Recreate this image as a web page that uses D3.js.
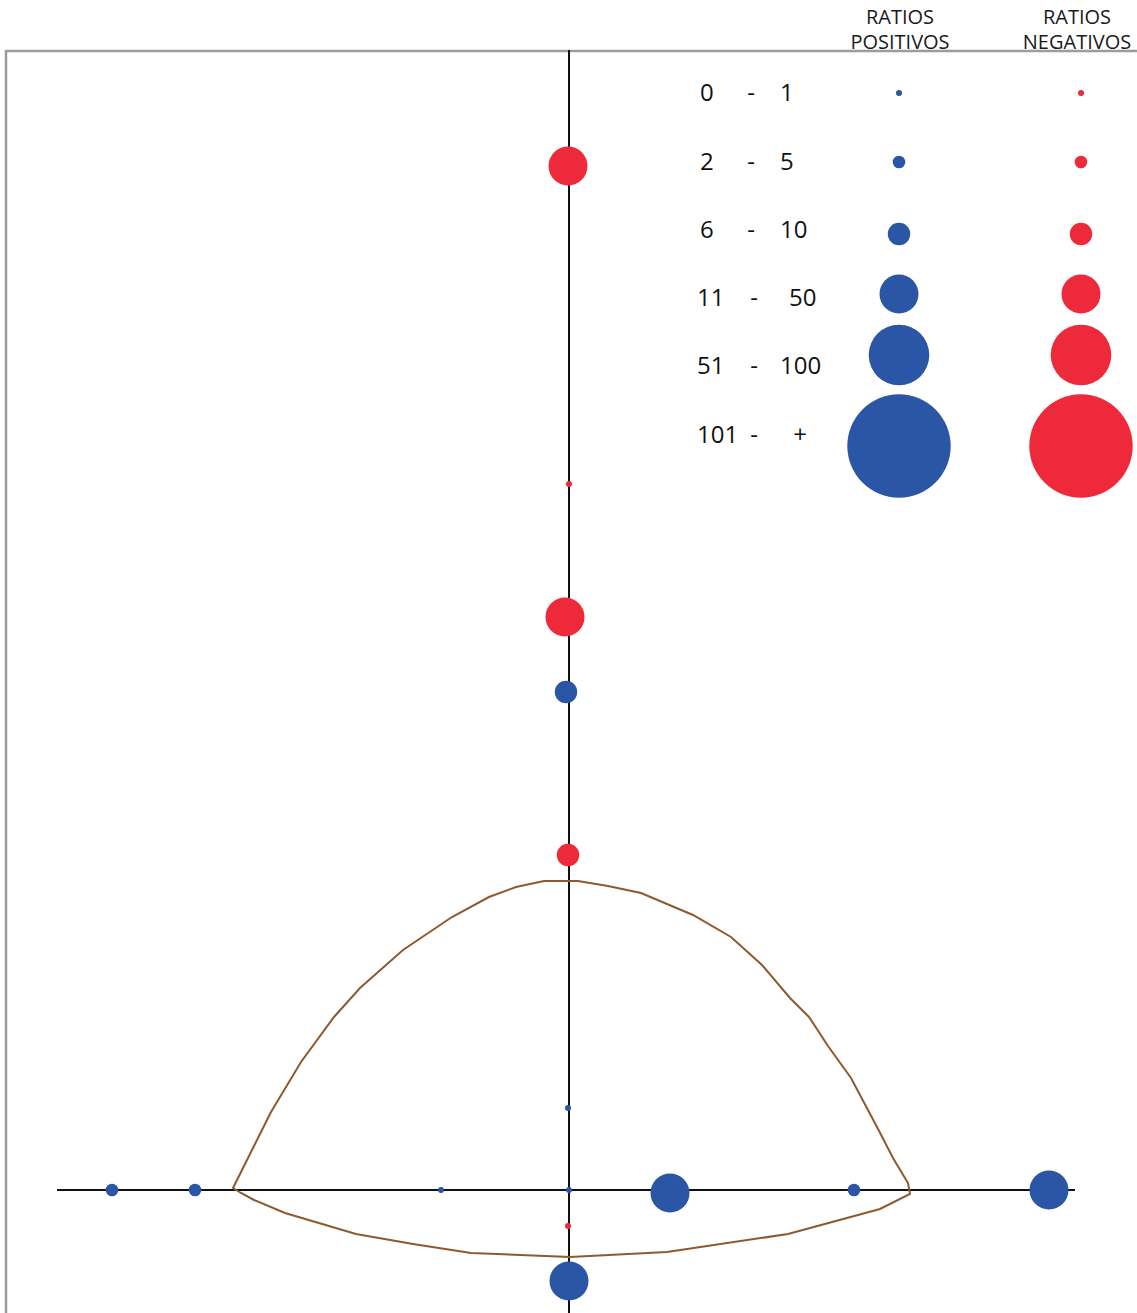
<!DOCTYPE html>
<html>
<head>
<meta charset="utf-8">
<script src="https://cdn.jsdelivr.net/npm/d3@7"></script>
<style>
  html, body { margin: 0; padding: 0; background: #fff; }
  svg { display: block; font-family: "Open Sans", "Liberation Sans", sans-serif; }
</style>
</head>
<body>
<svg id="chart" width="1137" height="1313"></svg>
<script>
// Klassen der Ratios (Legende)
const classLabels = [
  ["0", "1"],
  ["2", "5"],
  ["6", "10"],
  ["11", "50"],
  ["51", "100"],
  ["101", "+"]
];
const seriesNames = ["RATIOS POSITIVOS", "RATIOS NEGATIVOS"];

// Punkte auf der vertikalen Achse: [x, y, Klasse]
const verticalPos = [
  [-0.03, 4.98, 2],
  [-0.01, 0.82, 0],
  [0.00, 0.00, 0],
  [0.00, -0.91, 3]
];
const verticalNeg = [
  [-0.01, 10.24, 3],
  [0.00, 7.06, 0],
  [-0.04, 5.73, 3],
  [-0.01, 3.35, 2],
  [-0.01, -0.36, 0]
];
// Punkte auf der horizontalen Achse
const horizontalPos = [
  [-4.57, 0.00, 1],
  [-3.74, 0.00, 1],
  [-1.28, 0.00, 0],
  [1.01, -0.03, 3],
  [2.85, 0.00, 1],
  [4.80, 0.00, 3]
];

// Umhüllende (braune Kurve)
const envelope = [
  [-3.36, 0.02], [-2.98, 0.78], [-2.68, 1.28], [-2.35, 1.73], [-2.09, 2.02],
  [-1.66, 2.40], [-1.17, 2.73], [-0.80, 2.93], [-0.53, 3.03], [-0.25, 3.09],
  [0.09, 3.09], [0.39, 3.04], [0.72, 2.97], [1.24, 2.75], [1.62, 2.53],
  [1.93, 2.25], [2.21, 1.92], [2.40, 1.73], [2.59, 1.44], [2.82, 1.12],
  [3.08, 0.63], [3.24, 0.32], [3.39, 0.07], [3.41, -0.04],
  [3.11, -0.19], [2.19, -0.44], [0.98, -0.62], [0.01, -0.67], [-0.98, -0.63],
  [-1.56, -0.54], [-2.13, -0.44], [-2.84, -0.23], [-3.15, -0.10], [-3.28, -0.03]
];

// Achsenenden
const xExtent = [-5.12, 5.06];
const yExtent = [-1.23, 11.40];

const svg = d3.select("#chart");
const W = 1137, H = 1313;

const x = d3.scaleLinear().domain([-5.69, 5.68]).range([0, W]);
const y = d3.scaleLinear().domain([-1.23, 11.9]).range([H, 0]);

const radius = d3.scaleOrdinal()
  .domain(d3.range(6))
  .range([3, 6.3, 11.2, 19.5, 30.3, 51.7]);

const BLUE = "#2a56a5";
const RED = "#ee2a3a";

// Kopfzeilen der Legende
const headX = [900, 1077];
seriesNames.forEach((name, i) => {
  const words = name.split(" ");
  const t = svg.append("text")
    .attr("text-anchor", "middle")
    .attr("font-size", 20)
    .attr("fill", "#1a1a1a");
  t.append("tspan").attr("x", headX[i]).attr("y", 24).text(words[0]);
  t.append("tspan").attr("x", headX[i]).attr("y", 49).text(words[1]);
});

// Rahmen
svg.append("line")
  .attr("x1", 5).attr("x2", W).attr("y1", 51).attr("y2", 51)
  .attr("stroke", "#9c9ca0").attr("stroke-width", 2.5);
svg.append("line")
  .attr("x1", 6).attr("x2", 6).attr("y1", 50).attr("y2", H)
  .attr("stroke", "#9c9ca0").attr("stroke-width", 2.5);

// Achsen
svg.append("line")
  .attr("x1", x(0)).attr("x2", x(0))
  .attr("y1", y(yExtent[1])).attr("y2", y(yExtent[0]))
  .attr("stroke", "#111").attr("stroke-width", 2);
svg.append("line")
  .attr("x1", x(xExtent[0])).attr("x2", x(xExtent[1]))
  .attr("y1", y(0)).attr("y2", y(0))
  .attr("stroke", "#111").attr("stroke-width", 2);

// Kurve
svg.append("path")
  .datum(envelope)
  .attr("d", d3.line().x(d => x(d[0])).y(d => y(d[1])).curve(d3.curveLinearClosed))
  .attr("fill", "none")
  .attr("stroke", "#8c5a2e")
  .attr("stroke-width", 2);

// Punkte
const points = [
  ...verticalPos.map(d => ({ p: d, c: BLUE })),
  ...verticalNeg.map(d => ({ p: d, c: RED })),
  ...horizontalPos.map(d => ({ p: d, c: BLUE }))
];
svg.selectAll("circle.pt")
  .data(points)
  .enter()
  .append("circle")
    .attr("class", "pt")
    .attr("cx", d => x(d.p[0]))
    .attr("cy", d => y(d.p[1]))
    .attr("r", d => radius(d.p[2]))
    .attr("fill", d => d.c);

// Legende
const textY = [93, 162, 230, 298, 366, 435];
const dotY = [93, 162, 234, 294, 355, 446];
const leg = svg.append("g").attr("font-size", 24).attr("fill", "#111");

classLabels.forEach((lab, i) => {
  leg.append("text")
    .attr("x", lab[0].length === 1 ? 700 : 697).attr("y", textY[i]).attr("dy", "0.35em")
    .attr("fill", "#111")
    .text(lab[0]);
  leg.append("text")
    .attr("x", i < 3 ? 751 : 754).attr("y", textY[i]).attr("dy", "0.35em")
    .attr("text-anchor", "middle")
    .attr("fill", "#111")
    .text("-");
  leg.append("text")
    .attr("x", lab[1] === "+" ? 800 : (lab[1] === "50" ? 789 : 780)).attr("y", textY[i]).attr("dy", "0.35em")
    .attr("text-anchor", lab[1] === "+" ? "middle" : "start")
    .attr("fill", "#111")
    .text(lab[1]);
  leg.append("circle")
    .attr("cx", 899).attr("cy", dotY[i]).attr("r", radius(i)).attr("fill", BLUE);
  leg.append("circle")
    .attr("cx", 1081).attr("cy", dotY[i]).attr("r", radius(i)).attr("fill", RED);
});
</script>
</body>
</html>
